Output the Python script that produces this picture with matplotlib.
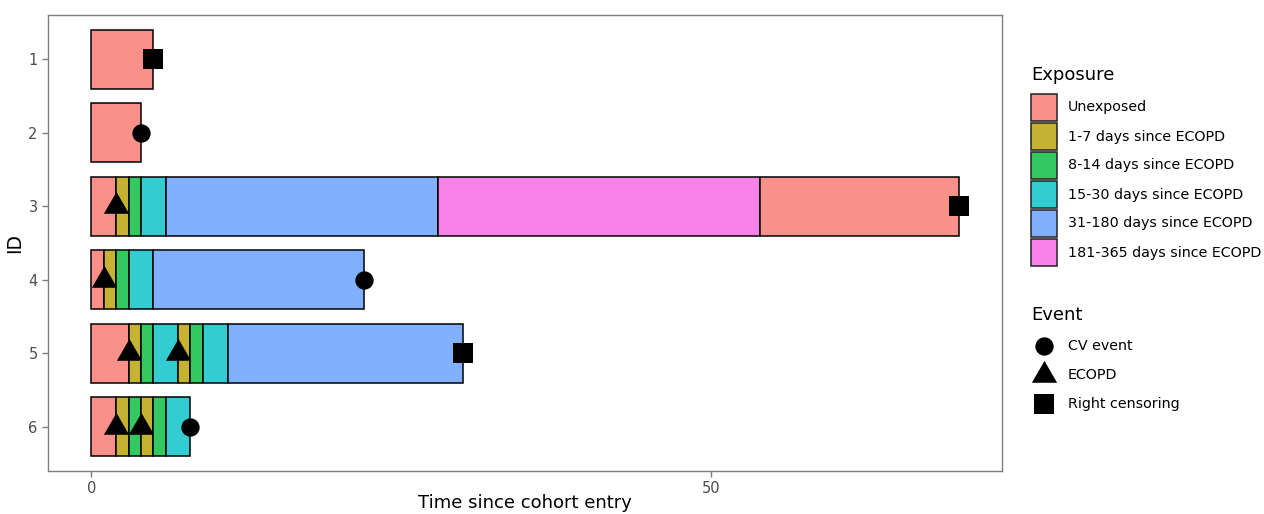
import matplotlib
matplotlib.use("Agg")
import matplotlib.pyplot as plt
from matplotlib.patches import Rectangle
import numpy as np

plt.rcParams['font.family'] = ['DejaVu Sans']

# ---------------- data ----------------
ids = [1, 2, 3, 4, 5, 6]
exposure_levels = ["Unexposed", "1-7 days since ECOPD", "8-14 days since ECOPD",
                   "15-30 days since ECOPD", "31-180 days since ECOPD",
                   "181-365 days since ECOPD"]
exposure_colors = ["#F9918A", "#C5B233", "#33C860", "#33CCD0", "#81B0FF", "#F783E9"]

seg_id = [1, 2,
          3, 3, 3, 3, 3, 3, 3,
          4, 4, 4, 4, 4,
          5, 5, 5, 5, 5, 5, 5, 5,
          6, 6, 6, 6, 6, 6]
seg_start = [0, 0,
             0, 2, 3, 4, 6, 28, 54,
             0, 1, 2, 3, 5,
             0, 3, 4, 5, 7, 8, 9, 11,
             0, 2, 3, 4, 5, 6]
seg_end = [5, 4,
           2, 3, 4, 6, 28, 54, 70,
           1, 2, 3, 5, 22,
           3, 4, 5, 7, 8, 9, 11, 30,
           2, 3, 4, 5, 6, 8]
seg_exposure = ["Unexposed", "Unexposed",
                "Unexposed", "1-7 days since ECOPD", "8-14 days since ECOPD",
                "15-30 days since ECOPD", "31-180 days since ECOPD",
                "181-365 days since ECOPD", "Unexposed",
                "Unexposed", "1-7 days since ECOPD", "8-14 days since ECOPD",
                "15-30 days since ECOPD", "31-180 days since ECOPD",
                "Unexposed", "1-7 days since ECOPD", "8-14 days since ECOPD",
                "15-30 days since ECOPD", "1-7 days since ECOPD", "8-14 days since ECOPD",
                "15-30 days since ECOPD", "31-180 days since ECOPD",
                "Unexposed", "1-7 days since ECOPD", "8-14 days since ECOPD",
                "1-7 days since ECOPD", "8-14 days since ECOPD", "15-30 days since ECOPD"]

event_levels = ["CV event", "ECOPD", "Right censoring"]
ev_id = [1, 2, 3, 3, 4, 4, 5, 5, 5, 6, 6, 6]
ev_time = [5, 4, 2, 70, 1, 22, 3, 7, 30, 2, 4, 8]
ev_type = ["Right censoring", "CV event", "ECOPD", "Right censoring",
           "ECOPD", "CV event", "ECOPD", "ECOPD", "Right censoring",
           "ECOPD", "ECOPD", "CV event"]

x_ticks = [0, 50]
x_label = "Time since cohort entry"
y_label = "ID"

# ---------------- styling ----------------
tri = [(-1, -0.577), (1, -0.577), (0, 1.155), (-1, -0.577)]
marker_style = {"CV event": dict(marker="o", ms=13.2),
                "ECOPD": dict(marker=tri, ms=21),
                "Right censoring": dict(marker="s", ms=13.7)}
color_map = dict(zip(exposure_levels, exposure_colors))
grey_txt = "#4D4D4D"
grey_ax = "#7F7F7F"

W, H = 1264, 514
fig = plt.figure(figsize=(W / 100, H / 100), dpi=100)
ax = fig.add_axes([48 / W, 43 / H, 954 / W, 456 / H])

half = 0.4
for i, s, e, ex in zip(seg_id, seg_start, seg_end, seg_exposure):
    ax.add_patch(Rectangle((s, i - half), e - s, 2 * half, facecolor=color_map[ex],
                           edgecolor="black", linewidth=1.1, zorder=2))

for i, t, et in zip(ev_id, ev_time, ev_type):
    st = marker_style[et]
    ax.plot([t], [i], linestyle="none", color="black", marker=st["marker"],
            markersize=st["ms"], markeredgewidth=0, zorder=3)

xmax = max(seg_end)
pad = 0.05 * xmax
ax.set_xlim(-pad, xmax + pad)
ax.set_ylim(max(ids) + 0.6, min(ids) - 0.6)
ax.set_xticks(x_ticks)
ax.set_yticks(ids)
ax.set_yticklabels([str(i) for i in ids])
ax.tick_params(axis="both", colors=grey_ax, labelcolor=grey_txt, labelsize=10.5,
               length=4, width=1.0)
for sp in ax.spines.values():
    sp.set_color(grey_ax)
    sp.set_linewidth(1.0)
ax.set_xlabel(x_label, fontsize=13, color="black", labelpad=-2)
ax.set_ylabel(y_label, fontsize=13.5, color="black", labelpad=3)

# ---------------- legend (overlay in pixel coordinates) ----------------
lax = fig.add_axes([0, 0, 1, 1])
lax.set_xlim(0, W)
lax.set_ylim(H, 0)
lax.axis("off")
lax.text(1031, 75, "Exposure", fontsize=13, va="center", ha="left")
for k, (lab, col) in enumerate(zip(exposure_levels, exposure_colors)):
    y0 = 94 + 29 * k
    lax.add_patch(Rectangle((1031, y0), 26, 27, facecolor=col, edgecolor="#222222",
                            linewidth=1.1))
    lax.text(1068, y0 + 13.5, lab, fontsize=10.3, va="center", ha="left")
lax.text(1031, 315, "Event", fontsize=13, va="center", ha="left")
for k, lab in enumerate(event_levels):
    y0 = 346 + 29 * k
    st = marker_style[lab]
    lax.plot([1044], [y0], linestyle="none", color="black", marker=st["marker"],
             markersize=st["ms"], markeredgewidth=0)
    lax.text(1068, y0, lab, fontsize=10.3, va="center", ha="left")

fig.savefig("out.png", dpi=100)
